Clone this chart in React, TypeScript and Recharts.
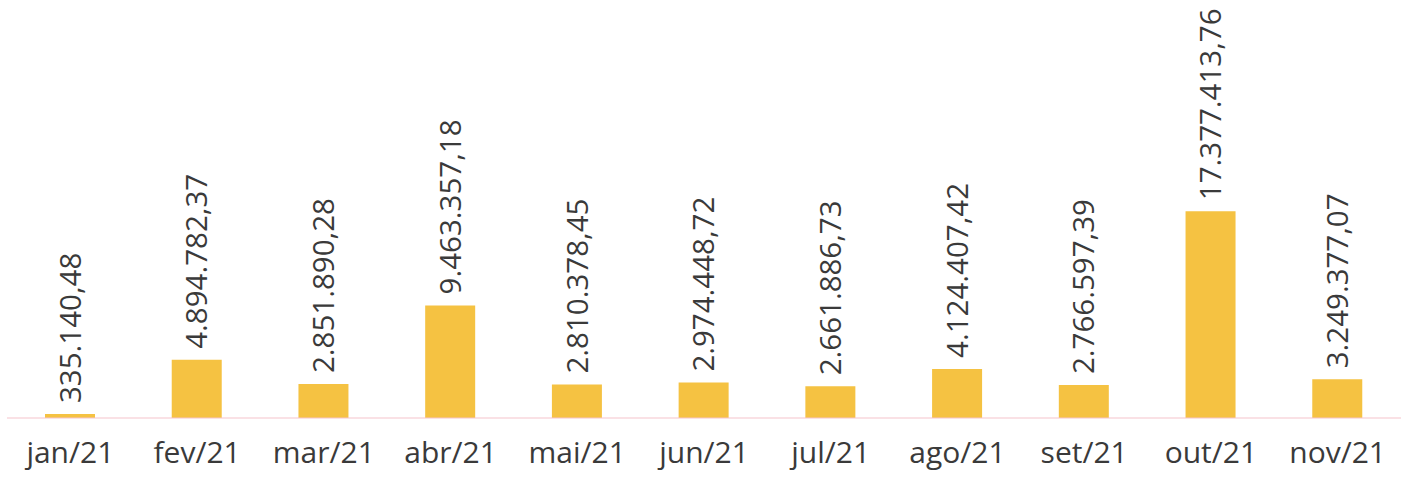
import { BarChart, Bar, XAxis, YAxis, LabelList } from "recharts";

const months = [
  "jan/21",
  "fev/21",
  "mar/21",
  "abr/21",
  "mai/21",
  "jun/21",
  "jul/21",
  "ago/21",
  "set/21",
  "out/21",
  "nov/21",
];

const totals = [
  335140.48, 4894782.37, 2851890.28, 9463357.18, 2810378.45, 2974448.72,
  2661886.73, 4124407.42, 2766597.39, 17377413.76, 3249377.07,
];

const data = months.map((month, i) => ({ month, total: totals[i] }));

const BAR_COLOR = "#F5C242";
const TEXT_COLOR = "#3a3a3a";
const FONT = "'Open Sans', 'Noto Sans', sans-serif";

function formatBRL(v: number): string {
  return v.toLocaleString("pt-BR", {
    minimumFractionDigits: 2,
    maximumFractionDigits: 2,
  });
}

// rotated value label sitting just above each bar
function ValueLabel(props: any) {
  const { x, y, width, value } = props;
  const fs = 29.5;
  const cx = Number(x) + Number(width) / 2 + fs * 0.36;
  const cy = Number(y) - 11;
  return (
    <text
      x={cx}
      y={cy}
      transform={`rotate(-90 ${cx} ${cy})`}
      textAnchor="start"
      fontSize={fs}
      fontFamily={FONT}
      fill={TEXT_COLOR}
    >
      {formatBRL(value)}
    </text>
  );
}

export default function App() {
  return (
    <div style={{ position: "absolute", left: 0, top: 0, background: "#fff" }}>
      <BarChart
        width={1404}
        height={479}
        data={data}
        margin={{ top: 180, right: 3, bottom: 0, left: 7 }}
      >
        <XAxis
          dataKey="month"
          height={61}
          tickLine={false}
          axisLine={{ stroke: "#f5c3cb", strokeWidth: 1 }}
          tickMargin={18}
          interval={0}
          tick={{ fontSize: 30, fill: TEXT_COLOR, fontFamily: FONT }}
        />
        <YAxis hide domain={[0, 20000000]} />
        <Bar dataKey="total" fill={BAR_COLOR} barSize={50} isAnimationActive={false}>
          <LabelList dataKey="total" content={ValueLabel} />
        </Bar>
      </BarChart>
    </div>
  );
}
